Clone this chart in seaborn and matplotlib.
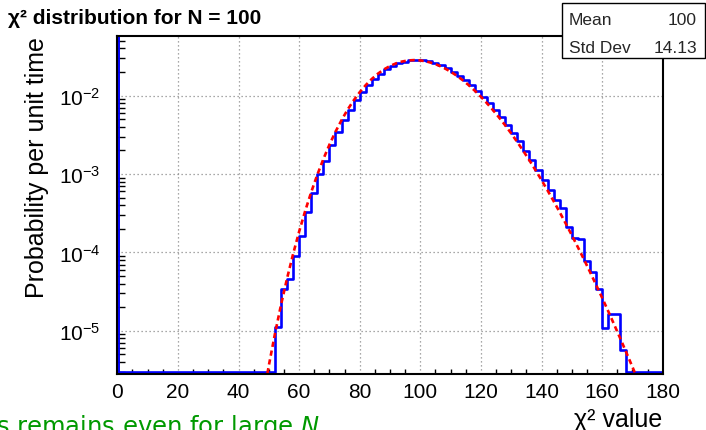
import numpy as np
import pandas as pd
import matplotlib
matplotlib.use("Agg")
import matplotlib.pyplot as plt
import seaborn as sns
from matplotlib.ticker import LogLocator, MultipleLocator, NullFormatter, FixedLocator
from matplotlib.patches import Rectangle

# Simulated chi2 values for N = 100, 2-unit bins on [0, 180], probability per unit
bin_lo = list(range(0, 180, 2))
bin_content = (
    [0.0] * 26
    + [1.13e-5, 3.4e-5, 4.6e-5, 8.9e-5, 1.6e-4, 3.3e-4, 5.7e-4, 9.9e-4,
       1.45e-3, 2.37e-3, 3.4e-3, 4.87e-3, 6.63e-3, 8.70e-3, 1.107e-2,
       1.365e-2, 1.636e-2, 1.906e-2, 2.163e-2, 2.393e-2, 2.585e-2,
       2.728e-2, 2.815e-2, 2.845e-2, 2.816e-2, 2.733e-2, 2.604e-2,
       2.436e-2, 2.240e-2, 2.025e-2, 1.801e-2, 1.577e-2, 1.360e-2,
       1.156e-2, 9.69e-3, 8.02e-3, 6.54e-3, 5.27e-3, 4.20e-3, 3.30e-3,
       2.65e-3, 1.98e-3, 1.52e-3, 1.12e-3, 8.5e-4, 6.3e-4, 4.7e-4,
       3.65e-4, 2.1e-4, 1.55e-4, 1.5e-4, 7.8e-5, 5.6e-5, 3.4e-5, 1.1e-5,
       1.65e-5, 1.65e-5, 5.7e-6]
    + [0.0] * 6
)

# Theoretical chi2 density for N = 100
curve_x = [48, 50, 52, 54, 56, 58, 60, 62, 64, 66, 68, 70, 72, 74, 76, 78,
           80, 82, 84, 86, 88, 90, 92, 94, 96, 98, 100, 102, 104, 106, 108,
           110, 112, 114, 116, 118, 120, 122, 124, 126, 128, 130, 132, 134,
           136, 138, 140, 142, 144, 146, 148, 150, 152, 154, 156, 158, 160,
           162, 164, 166, 168, 170, 172]
curve_y = [1.32e-6, 3.60e-6, 9.06e-6, 2.12e-5, 4.63e-5, 9.50e-5, 1.84e-4,
           3.38e-4, 5.89e-4, 9.78e-4, 1.553e-3, 2.366e-3, 3.46e-3, 4.87e-3,
           6.63e-3, 8.70e-3, 1.107e-2, 1.365e-2, 1.636e-2, 1.906e-2,
           2.163e-2, 2.393e-2, 2.585e-2, 2.728e-2, 2.815e-2, 2.845e-2,
           2.816e-2, 2.733e-2, 2.604e-2, 2.436e-2, 2.240e-2, 2.025e-2,
           1.801e-2, 1.577e-2, 1.360e-2, 1.156e-2, 9.69e-3, 8.02e-3, 6.54e-3,
           5.27e-3, 4.20e-3, 3.30e-3, 2.566e-3, 1.971e-3, 1.499e-3, 1.127e-3,
           8.39e-4, 6.19e-4, 4.52e-4, 3.27e-4, 2.34e-4, 1.663e-4, 1.170e-4,
           8.17e-5, 5.66e-5, 3.88e-5, 2.65e-5, 1.79e-5, 1.20e-5, 8.00e-6,
           5.29e-6, 3.48e-6, 2.27e-6]

x_ticks = [0, 20, 40, 60, 80, 100, 120, 140, 160, 180]
stats_names = ["Mean", "Std Dev"]
stats_values = ["100", "14.13"]

sns.set_theme(style="white")
plt.rcParams["font.family"] = ["Liberation Sans", "DejaVu Sans"]
plt.rcParams["mathtext.fontset"] = "custom"
plt.rcParams["mathtext.rm"] = "Liberation Sans"
plt.rcParams["mathtext.it"] = "DejaVu Sans:italic"
plt.rcParams["mathtext.default"] = "regular"

W, H = 706, 431
fig = plt.figure(figsize=(W / 100, H / 100), dpi=100)
fig.patch.set_facecolor("white")
L, R, T, B = 117.3, 662.7, 37.3, 375.0
ax = fig.add_axes([L / W, 1 - B / H, (R - L) / W, (B - T) / H])
ax.set_facecolor("white")

y_lo, y_hi = 2.82e-6, 0.0572
ax.set_yscale("log")
ax.set_xlim(0, 180)
ax.set_ylim(y_lo, y_hi)

# empty bins sit on the frame floor
floor = y_lo * 1.07
edges = bin_lo + [180]
vals = [v if v > 0 else floor for v in bin_content]
hist_df = pd.DataFrame({"x": edges, "y": vals + [vals[-1]]})
curve_df = pd.DataFrame({"x": curve_x, "y": curve_y})

ax.axvline(0.55, color="#0000ff", lw=1.4, zorder=3)
sns.lineplot(data=hist_df, x="x", y="y", ax=ax, color="#0000ff",
             drawstyle="steps-post", lw=1.9, estimator=None, sort=False,
             zorder=3)
sns.lineplot(data=curve_df, x="x", y="y", ax=ax, color="#ff0000",
             lw=1.9, estimator=None, sort=False, zorder=4)
ax.lines[-1].set_dashes([2.0, 1.4])

# axes decoration
ax.xaxis.set_major_locator(FixedLocator(x_ticks))
ax.xaxis.set_minor_locator(MultipleLocator(5))
ax.yaxis.set_major_locator(LogLocator(base=10, numticks=20))
ax.yaxis.set_minor_locator(LogLocator(base=10, subs=np.arange(2, 10), numticks=20))
ax.yaxis.set_minor_formatter(NullFormatter())
ax.grid(True, which="major", color="#8c8c8c", lw=0.9, linestyle=(0, (1, 2.2)))
for s in ax.spines.values():
    s.set_color("black")
    s.set_linewidth(1.5)
    s.set_zorder(5)
ax.tick_params(axis="x", which="major", direction="in", length=6.5, width=1.0,
               labelsize=15, pad=6, top=False, color="black", labelcolor="black")
ax.tick_params(axis="x", which="minor", direction="in", length=3.5, width=1.0,
               top=False, color="black", bottom=True)
ax.tick_params(axis="y", which="major", direction="in", length=11.5, width=1.0,
               labelsize=15, pad=12, right=False, color="black", labelcolor="black")
ax.tick_params(axis="y", which="minor", direction="in", length=5.8, width=1.0,
               right=False, color="black", left=True)

ax.set_xlabel("χ² value", fontsize=18, loc="right", labelpad=4, color="black")
ax.set_ylabel("Probability per unit time", fontsize=18, loc="top",
              labelpad=7, color="black")

fig.text(8 / W, 1 - 18 / H, "χ² distribution for N = 100", fontsize=15,
         fontweight="bold", ha="left", va="center", color="black")

# statistics box
bx0, by0, bx1, by1 = 561.7, 4.0, 705.0, 59.3
fig.add_artist(Rectangle((bx0 / W, 1 - by1 / H), (bx1 - bx0) / W, (by1 - by0) / H,
                         transform=fig.transFigure, facecolor="white",
                         edgecolor="black", lw=1.0, zorder=10))
for i, (nm, vl) in enumerate(zip(stats_names, stats_values)):
    yc = 1 - (20.5 + 27.8 * i) / H
    fig.text(569 / W, yc, nm, fontsize=12.5, ha="left", va="center", zorder=11)
    fig.text(697 / W, yc, vl, fontsize=12.5, ha="right", va="center", zorder=11)

fig.text(-4 / W, 1 - 434 / H, r"s remains even for large $\mathit{N}$",
         fontsize=17.5, color="#009900", ha="left", va="baseline",
         family=["DejaVu Sans"])

fig.savefig("out.png", dpi=100)
